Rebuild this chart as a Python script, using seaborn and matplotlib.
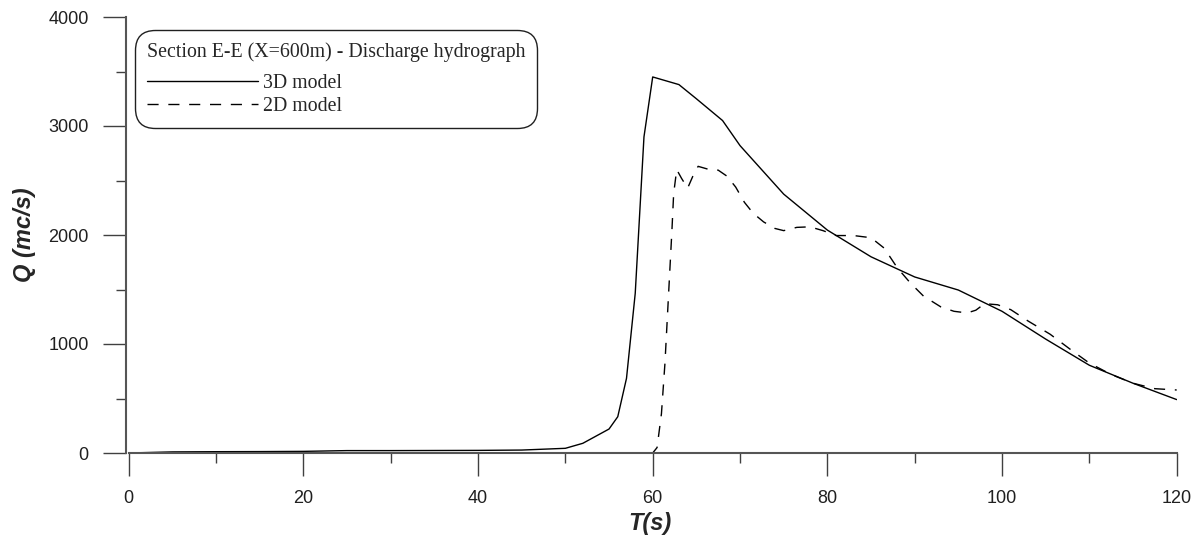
import numpy as np
import pandas as pd
import matplotlib
matplotlib.use("Agg")
import matplotlib.pyplot as plt
from matplotlib.ticker import MultipleLocator
import seaborn as sns

# 3D model discharge
t_3d = [0, 5, 10, 15, 20, 25, 30, 35, 40, 45, 50, 52, 55, 56, 57, 58, 59, 60,
        63, 65, 68, 70, 75, 80, 85, 90, 95, 100, 105, 110, 115, 120]
q_3d = [0, 10, 12, 13, 15, 22, 22, 23, 24, 27, 43, 89, 220, 333, 685, 1465, 2900, 3450,
        3380, 3250, 3050, 2820, 2375, 2045, 1800, 1615, 1495, 1300, 1045, 805, 640, 490]

# 2D model discharge
t_2d = [0, 10, 20, 30, 40, 50, 60, 60.5, 61, 61.4, 61.8, 62.2, 62.4, 62.75, 63.3, 64,
        64.6, 65.2, 66.5, 67.5, 68.5, 69.5, 70.5, 71.5, 72.7, 74, 75, 76.5, 78, 79.5,
        81, 83, 85, 86.5, 88, 89.5, 91, 93, 94.5, 96, 97, 98, 99.5, 101, 103, 105.5,
        108, 110, 112.5, 115, 117.5, 120]
q_2d = [0, 0, 0, 0, 0, 0, 0, 50, 360, 820, 1430, 2040, 2380, 2600, 2520, 2430,
        2540, 2630, 2600, 2595, 2540, 2440, 2300, 2200, 2120, 2060, 2040, 2070, 2075, 2040,
        1995, 1995, 1975, 1880, 1700, 1560, 1440, 1340, 1300, 1285, 1310, 1370, 1360, 1315, 1210, 1090,
        940, 825, 720, 640, 590, 578]

legend_title = "Section E-E (X=600m) - Discharge hydrograph"
labels = ["3D model", "2D model"]

df3 = pd.DataFrame({"T": t_3d, "Q": q_3d})
df2 = pd.DataFrame({"T": t_2d, "Q": q_2d})

sns.set_style("ticks")
plt.rcParams["font.family"] = ["Liberation Sans", "DejaVu Sans"]

fig = plt.figure(figsize=(12.04, 5.42), dpi=100)
ax = fig.add_axes([128.7 / 1204, 1 - 453 / 542, 1048 / 1204, 436 / 542])

sns.lineplot(data=df3, x="T", y="Q", ax=ax, color="black", lw=1.0, label=labels[0])
sns.lineplot(data=df2, x="T", y="Q", ax=ax, color="black", lw=1.0,
             linestyle=(0, (8, 7)), label=labels[1])

ax.set_xlim(0, 120)
ax.set_ylim(0, 4000)
ax.xaxis.set_major_locator(MultipleLocator(20))
ax.xaxis.set_minor_locator(MultipleLocator(10))
ax.yaxis.set_major_locator(MultipleLocator(1000))
ax.yaxis.set_minor_locator(MultipleLocator(500))

for s in ["top", "right"]:
    ax.spines[s].set_visible(False)
for s in ["left", "bottom"]:
    ax.spines[s].set_color("#555555")
    ax.spines[s].set_linewidth(1.5)
ax.spines["left"].set_position(("outward", 2.2))

ax.tick_params(which="major", length=16.5, width=1.0, color="#404040",
               labelsize=13, pad=10, labelcolor="#202020")
ax.tick_params(which="minor", length=7.5, width=1.0, color="#404040")

lab_font = dict(family="Liberation Sans", weight="bold", style="italic", size=17)
ax.set_xlabel("T(s)", **lab_font)
ax.set_ylabel("Q (mc/s)", **lab_font)
ax.xaxis.set_label_coords(0.497, -0.135)
ax.yaxis.set_label_coords(-0.088, 0.5)

leg = ax.legend(title=legend_title, loc="upper left", bbox_to_anchor=(0.006, 0.970),
                borderaxespad=0, handlelength=5.6, handletextpad=0.25,
                labelspacing=0.17, borderpad=0.6, fancybox=True,
                prop=dict(family="Liberation Serif", size=14.3),
                title_fontproperties=dict(family="Liberation Serif", size=14.3),
                alignment="left", framealpha=1)
leg._legend_box.sep = 9
frame = leg.get_frame()
frame.set_edgecolor("#202020")
frame.set_linewidth(1.0)
frame.set_boxstyle("round", pad=0, rounding_size=1.0)

fig.savefig("out.png", dpi=100)
